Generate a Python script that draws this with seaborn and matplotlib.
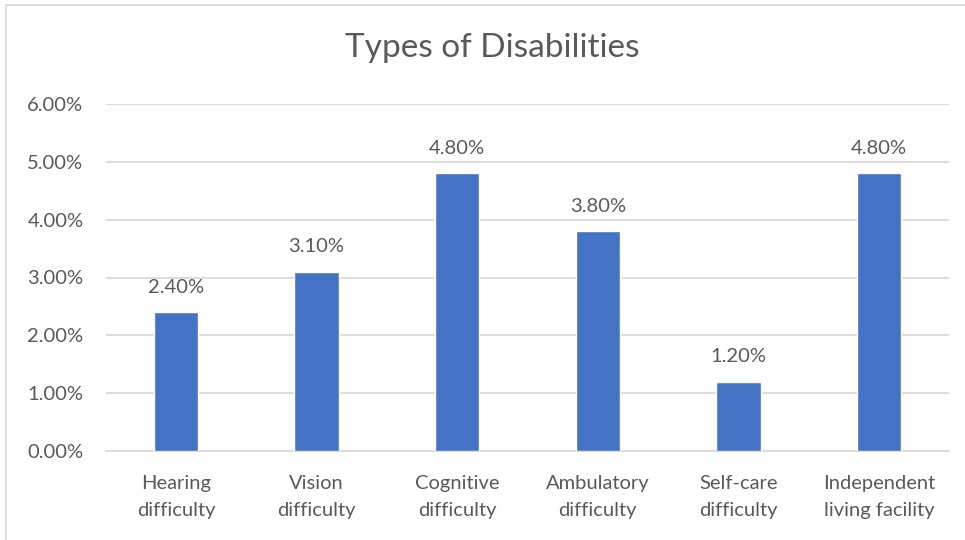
import matplotlib
matplotlib.use("Agg")
import matplotlib.pyplot as plt
import seaborn as sns
import pandas as pd
from matplotlib.patches import Rectangle

categories = ["Hearing\ndifficulty", "Vision\ndifficulty", "Cognitive\ndifficulty",
              "Ambulatory\ndifficulty", "Self-care\ndifficulty", "Independent\nliving facility"]
values = [2.4, 3.1, 4.8, 3.8, 1.2, 4.8]
yticks = [0, 1, 2, 3, 4, 5, 6]
ytick_labels = ["0.00%", "1.00%", "2.00%", "3.00%", "4.00%", "5.00%", "6.00%"]
title = "Types of Disabilities"

sns.set_theme(style="white")
plt.rcParams['font.family'] = ['Lato', 'DejaVu Sans']
text_color = "#595959"

df = pd.DataFrame({"cat": categories, "val": values})
fig = plt.figure(figsize=(9.65, 5.4), dpi=100)
ax = fig.add_axes([105.7/965, 1 - 451/540, (949.3-105.7)/965, (451-104)/540])
sns.barplot(data=df, x="cat", y="val", color="#4472C4", width=0.315, ax=ax, zorder=3, saturation=1)
ax.set_ylim(0, 6)
ax.set_xlim(-0.5, len(categories) - 0.5)
ax.set_yticks(yticks)
ax.set_yticklabels(ytick_labels)
ax.yaxis.grid(True, color="#D9D9D9", linewidth=1.3, zorder=0)
for s in ["top", "right", "left"]:
    ax.spines[s].set_visible(False)
ax.spines["bottom"].set_color("#D9D9D9")
ax.spines["bottom"].set_linewidth(1.3)
ax.tick_params(axis="both", length=0, colors=text_color, labelsize=14.5)
ax.tick_params(axis="y", pad=16)
ax.tick_params(axis="x", pad=17)
for lab in ax.get_xticklabels():
    lab.set_linespacing(1.75)
ax.set_xlabel("")
ax.set_ylabel("")
for i, v in enumerate(values):
    ax.annotate(f"{v:.2f}%", (i, v), xytext=(0, 18), textcoords="offset points",
                ha="center", va="center", fontsize=14.5, color=text_color)
fig.text(492/965, 1 - 48/540, title, ha="center", va="center", fontsize=24, color=text_color)
fig.patches.append(Rectangle((6/965, -0.05), 1.1, 1 - 5/540 + 0.05, transform=fig.transFigure,
                             fill=False, edgecolor="#D9D9D9", linewidth=1.3))
fig.savefig("out.png", dpi=100)
